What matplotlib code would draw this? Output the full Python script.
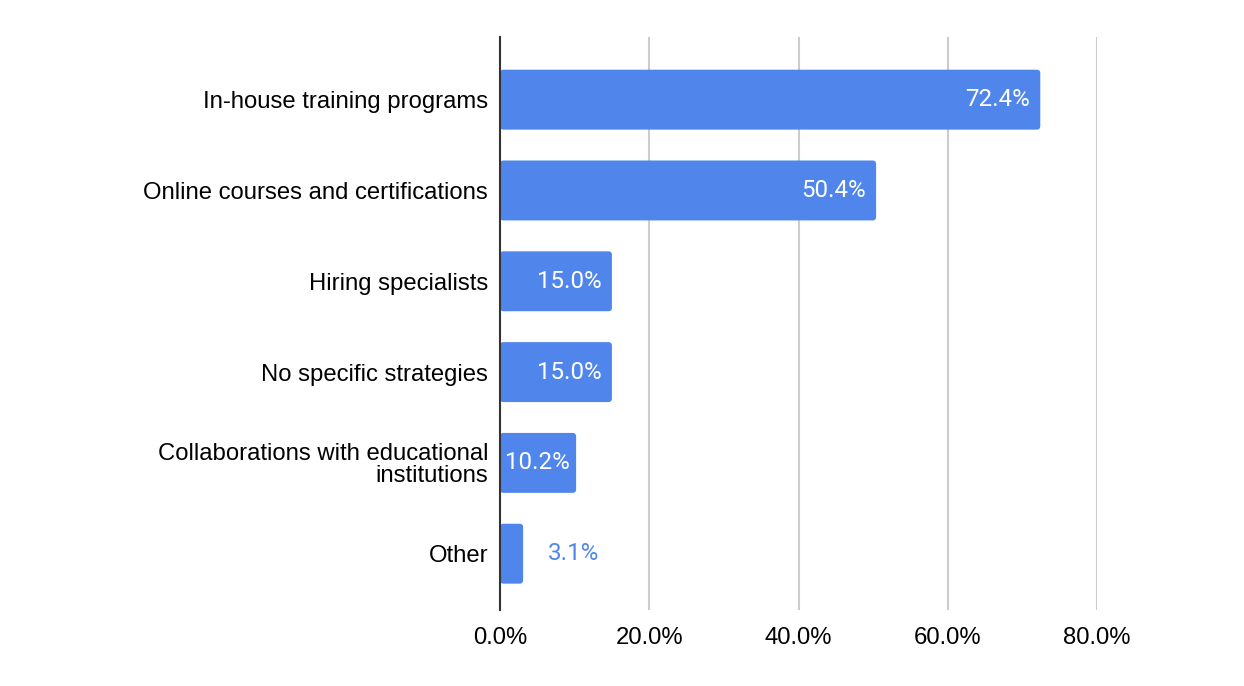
import matplotlib
matplotlib.use("Agg")
import matplotlib.pyplot as plt
from matplotlib.patches import FancyBboxPatch

categories = ["In-house training programs", "Online courses and certifications",
              "Hiring specialists", "No specific strategies",
              "Collaborations with educational\ninstitutions", "Other"]
values = [72.4, 50.4, 15.0, 15.0, 10.2, 3.1]
xticks = [0, 20, 40, 60, 80]
xtick_labels = ["0.0%", "20.0%", "40.0%", "60.0%", "80.0%"]

BLUE = "#5086EC"
W, H, DPI = 1244, 686, 100
fig = plt.figure(figsize=(W / DPI, H / DPI), dpi=DPI)
ax = fig.add_axes([500 / W, 1 - 610 / H, 597 / W, 573 / H])

ax.set_xlim(0, 80)
ax.set_ylim(5.62, -0.69)

bar_h = 0.66
px_x = 597 / 80
px_y = 573 / 6.31
r = 3.5 / px_x
for i, v in enumerate(values):
    p = FancyBboxPatch((0, i - bar_h / 2), v, bar_h,
                       boxstyle=f"round,pad=0,rounding_size={r}",
                       mutation_aspect=px_x / px_y,
                       facecolor=BLUE, edgecolor="none", zorder=3)
    ax.add_patch(p)
    label = f"{v:.1f}%"
    if v > 12:
        ax.text(v - 10 / px_x, i, label, ha="right", va="center",
                color="white", fontsize=17.4, family="Roboto", zorder=4)
    elif v > 8:
        ax.text(v - 6 / px_x, i, label, ha="right", va="center",
                color="white", fontsize=17.4, family="Roboto", zorder=4)
    else:
        ax.text(v + 25 / px_x, i, label, ha="left", va="center",
                color=BLUE, fontsize=17.4, family="Roboto", zorder=4)

ax.set_yticks(range(len(categories)))
ax.set_yticklabels(categories, family="Liberation Sans", fontsize=17.2,
                   color="#000000", linespacing=0.98)
ax.set_xticks(xticks)
ax.set_xticklabels(xtick_labels, family="Liberation Sans", fontsize=17.2,
                   color="#000000")
ax.tick_params(axis="both", length=0)
ax.tick_params(axis="y", pad=8.6)
ax.tick_params(axis="x", pad=12)

for s in ["top", "right", "bottom"]:
    ax.spines[s].set_visible(False)
ax.spines["left"].set_color("#333333")
ax.spines["left"].set_linewidth(1.5)
ax.spines["left"].set_zorder(5)

for t in xticks[1:]:
    ax.axvline(t, color="#cccccc", linewidth=1.5, zorder=1)

fig.savefig("out.png", dpi=DPI, facecolor="white")
